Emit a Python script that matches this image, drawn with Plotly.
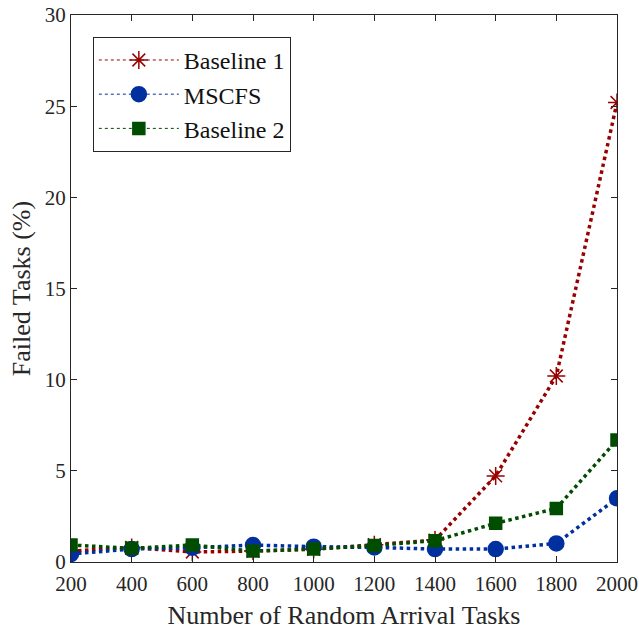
import plotly.graph_objects as go

tasks = [200, 400, 600, 800, 1000, 1200, 1400, 1600, 1800, 2000]
baseline1 = [0.6, 0.8, 0.55, 0.6, 0.7, 0.95, 1.2, 4.72, 10.2, 25.2]
mscfs = [0.44, 0.71, 0.78, 0.93, 0.84, 0.8, 0.71, 0.71, 1.02, 3.49]
baseline2 = [0.93, 0.75, 0.93, 0.6, 0.71, 0.9, 1.17, 2.12, 2.94, 6.69]

names = ["Baseline 1", "MSCFS", "Baseline 2"]
colors = ["#990000", "#0030A0", "#004D00"]
symbols = ["asterisk-open", "circle", "square"]
sizes = [15, 15, 12]
series = [baseline1, mscfs, baseline2]

fig = go.Figure()
for name, col, sym, sz, ys in zip(names, colors, symbols, sizes, series):
    fig.add_trace(go.Scatter(
        x=tasks, y=ys, mode="lines+markers", name=name, showlegend=False,
        line=dict(color=col, width=3.5, dash="dot"),
        marker=dict(symbol=sym, size=sz, color=col, line=dict(color=col, width=1.5)),
    ))
for name, col, sym, sz in zip(names, colors, symbols, sizes):
    fig.add_trace(go.Scatter(
        x=[None], y=[None], mode="lines+markers", name=name, showlegend=True,
        line=dict(color=col, width=1, dash="dot"),
        marker=dict(symbol=sym, size=sz, color=col, line=dict(color=col, width=1.5)),
    ))

FONT = "Liberation Serif"
axis_common = dict(
    showgrid=False, zeroline=False, showline=True, mirror="ticks",
    linecolor="#262626", linewidth=1, ticks="inside", ticklen=6,
    tickcolor="#262626", automargin=False,
    tickfont=dict(family=FONT, size=21, color="#262626"),
)
fig.update_xaxes(range=[200, 2000], tickvals=tasks, ticklabelstandoff=3, **axis_common,
                 title=dict(text="Number of Random Arrival Tasks",
                            font=dict(family=FONT, size=26, color="#262626"),
                            standoff=10))
fig.update_yaxes(range=[0, 30], tickvals=[0, 5, 10, 15, 20, 25, 30], **axis_common,
                 title=dict(text="Failed Tasks (%)",
                            font=dict(family=FONT, size=26, color="#262626"),
                            standoff=6))

fig.update_layout(
    width=639, height=630,
    margin=dict(l=71, r=22, t=15, b=68),
    plot_bgcolor="white", paper_bgcolor="white",
    legend=dict(x=0.04, y=0.96, xanchor="left", yanchor="top",
                bordercolor="#262626", borderwidth=1, bgcolor="white",
                font=dict(family=FONT, size=24, color="#111111"),
                itemwidth=80, tracegroupgap=0),
)

fig.write_html("out.html")
